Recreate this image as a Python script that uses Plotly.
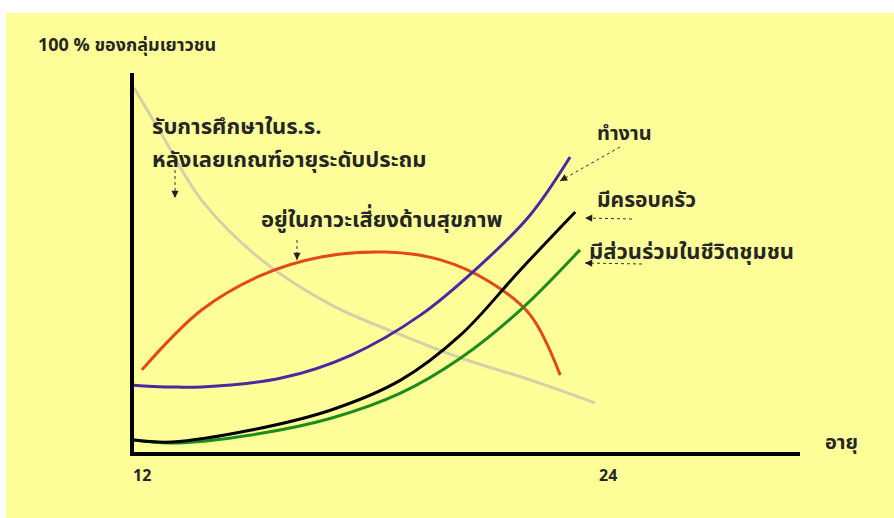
import plotly.graph_objects as go

W, H = 894, 518

# ---- data (age in years, share in % of youth) ----
school_age = [12.0, 12.71, 13.71, 15.23, 16.99, 18.76, 20.27, 22.03, 23.67]
school_pct = [98.0, 85.3, 67.8, 51.7, 39.6, 31.5, 25.3, 19.4, 13.2]

work_age = [11.85, 12.0, 12.96, 13.71, 15.73, 17.5, 19.26, 20.77, 22.03, 23.04]
work_pct = [18.3, 18.0, 17.5, 17.5, 19.9, 26.1, 36.9, 50.3, 63.8, 79.4]

risk_age = [12.2, 13.71, 15.23, 16.74, 18.38, 19.76, 21.02, 22.03, 22.79]
risk_pct = [22.1, 38.2, 47.6, 52.5, 53.8, 51.7, 45.7, 36.9, 20.7]

family_age = [12.0, 12.96, 14.97, 16.99, 18.76, 20.27, 21.78, 23.17]
family_pct = [3.2, 2.7, 5.9, 11.3, 19.4, 31.5, 49.0, 64.6]

comm_age = [12.0, 12.96, 14.97, 16.99, 18.76, 20.27, 21.78, 23.29]
comm_pct = [3.2, 2.4, 4.6, 9.1, 15.9, 25.3, 38.2, 54.4]

tick_vals = [12, 24]
tick_text = ["12", "24"]

FONT = "Tahoma, 'Noto Sans Thai', 'DejaVu Sans', sans-serif"
TXT = "#262626"


def px(x):
    return x / W


def py(y):
    return 1 - y / H


fig = go.Figure()

series = [
    (school_age, school_pct, "#D6D0A6"),
    (risk_age, risk_pct, "#E5471A"),
    (work_age, work_pct, "#4B2AA0"),
    (comm_age, comm_pct, "#1C8C1C"),
    (family_age, family_pct, "#000000"),
]
for xs, ys, c in series:
    fig.add_trace(go.Scatter(x=xs, y=ys, mode="lines",
                             line=dict(color=c, width=3, shape="spline", smoothing=1.0),
                             hoverinfo="skip", showlegend=False, cliponaxis=False))

fig.update_layout(
    width=W, height=H,
    margin=dict(l=0, r=0, t=0, b=0),
    paper_bgcolor="white",
    plot_bgcolor="rgba(0,0,0,0)",
    xaxis=dict(domain=[px(134), px(800)], range=[12, 12 + 666 / 39.5],
               showline=True, linewidth=4, linecolor="black",
               showgrid=False, zeroline=False, showticklabels=False, ticks=""),
    yaxis=dict(domain=[py(452), py(73)], range=[0, 102],
               showline=True, linewidth=4, linecolor="black",
               showgrid=False, zeroline=False, showticklabels=False, ticks=""),
    font=dict(family=FONT, color=TXT),
)

# yellow background
fig.add_shape(type="rect", xref="paper", yref="paper",
              x0=px(6), x1=1.02, y0=-0.02, y1=py(13),
              fillcolor="#FFFF99", line=dict(width=0), layer="below")

texts = [
    ("100 % ของกลุ่มเยาวชน", 36, 45, 18),
    ("รับการศึกษาในร.ร.", 150, 128, 22),
    ("หลังเลยเกณฑ์อายุระดับประถม", 150, 160, 22),
    ("อยู่ในภาวะเสี่ยงด้านสุขภาพ", 259, 221, 22),
    ("ทำงาน", 595, 134, 20),
    ("มีครอบครัว", 595, 200, 21),
    ("มีส่วนร่วมในชีวิตชุมชน", 587, 252, 22),
    ("อายุ", 823, 443, 20),
]
for t, x, y, s in texts:
    fig.add_annotation(text="<b>%s</b>" % t, x=px(x), y=py(y), xref="paper", yref="paper",
                       xanchor="left", yanchor="middle", showarrow=False,
                       font=dict(size=s, family=FONT, color=TXT))

# tick labels
for v, t in zip(tick_vals, tick_text):
    fig.add_annotation(text="<b>%s</b>" % t, x=v, y=0, xref="x", yref="y",
                       xanchor="left" if v == 12 else "center", yanchor="top",
                       yshift=-10, xshift=-3 if v == 12 else 0, showarrow=False,
                       font=dict(size=16, family=FONT, color=TXT))

# dashed pointer arrows
arrows = [
    (175, 170, 175, 198),
    (297, 240, 297, 260),
    (620, 147, 560, 181),
    (632, 219, 585, 218),
    (642, 264, 585, 263),
]
for x0, y0, x1, y1 in arrows:
    fig.add_shape(type="line", xref="paper", yref="paper",
                  x0=px(x0), y0=py(y0), x1=px(x1), y1=py(y1),
                  line=dict(color="#333333", width=1, dash="dot"))
    dx, dy = x0 - x1, y0 - y1
    n = (dx * dx + dy * dy) ** 0.5
    fig.add_annotation(x=px(x1), y=py(y1), xref="paper", yref="paper",
                       ax=dx / n * 6, ay=dy / n * 6, text="", showarrow=True,
                       arrowhead=2, arrowsize=1.2, arrowwidth=1.2,
                       arrowcolor="#222222")

fig.write_html("out.html",
               config={"displayModeBar": False, "staticPlot": True},
               post_script="document.body.style.margin='0';document.body.style.overflow='hidden';")
